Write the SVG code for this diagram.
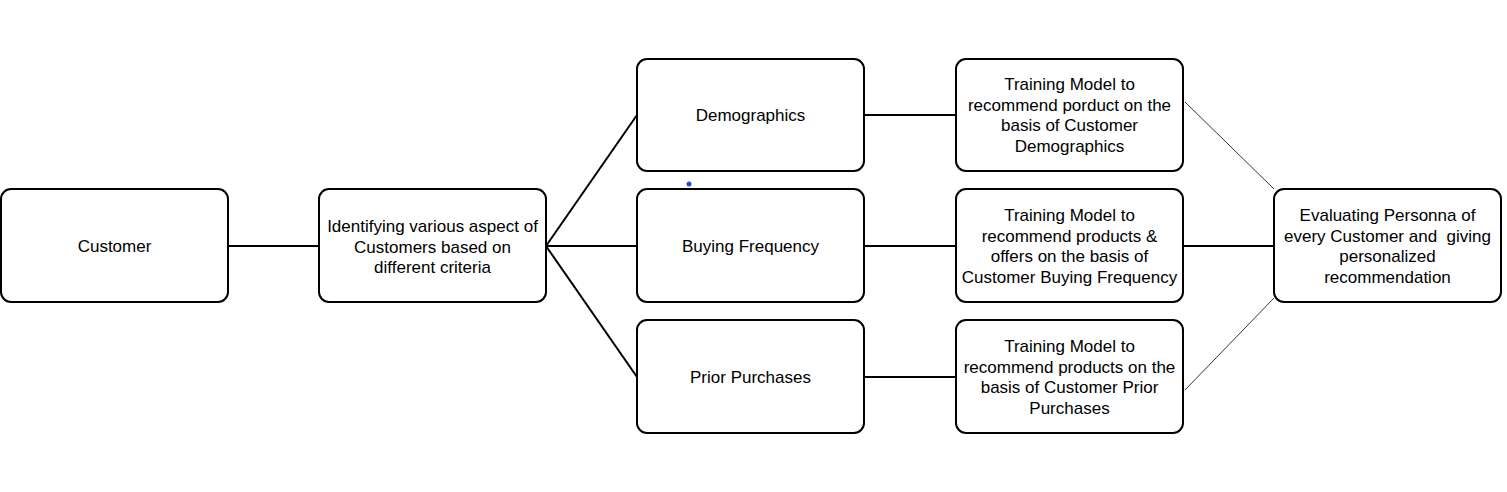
<svg xmlns="http://www.w3.org/2000/svg" width="1507" height="492" viewBox="0 0 1507 492">
<style>
.box{fill:#fff;stroke:#000;stroke-width:2}
.t{font-family:"Liberation Sans",Arial,sans-serif;font-size:17px;fill:#000;text-anchor:middle;white-space:pre}
.c{stroke:#000;stroke-width:2;fill:none}
.thin{stroke:#000;stroke-width:0.8;fill:none}
</style>
<rect width="1507" height="492" fill="#fff"/>
<g id="connectors">
<line class="c" x1="228" y1="246" x2="319" y2="246"/>
<line class="c" x1="546" y1="246" x2="637" y2="115"/>
<line class="c" x1="546" y1="246" x2="637" y2="246"/>
<line class="c" x1="546" y1="246" x2="637" y2="377"/>
<line class="c" x1="864" y1="115" x2="956" y2="115"/>
<line class="c" x1="864" y1="246" x2="956" y2="246"/>
<line class="c" x1="864" y1="377" x2="956" y2="377"/>
<line class="thin" x1="1185" y1="102" x2="1274" y2="189"/>
<line class="c" x1="1183" y1="246" x2="1274" y2="246"/>
<line class="thin" x1="1185" y1="390" x2="1274" y2="298"/>
</g>
<g id="customer">
<rect class="box" x="1" y="189" width="227" height="113" rx="10"/>
<text class="t" x="114.5" y="252">Customer</text>
</g>
<g id="identify">
<rect class="box" x="319" y="189" width="227" height="113" rx="10"/>
<text class="t" x="432.5" y="232">Identifying various aspect of</text>
<text class="t" x="432.5" y="252.5">Customers based on</text>
<text class="t" x="432.5" y="273">different criteria</text>
</g>
<g id="demographics">
<rect class="box" x="637" y="59" width="227" height="112" rx="10"/>
<text class="t" x="750.5" y="121">Demographics</text>
</g>
<g id="buying">
<rect class="box" x="637" y="189" width="227" height="113" rx="10"/>
<text class="t" x="750.5" y="252">Buying Frequency</text>
</g>
<g id="prior">
<rect class="box" x="637" y="320" width="227" height="113" rx="10"/>
<text class="t" x="750.5" y="383">Prior Purchases</text>
</g>
<g id="train1">
<rect class="box" x="956" y="59" width="227" height="112" rx="10"/>
<text class="t" x="1069.5" y="90">Training Model to</text>
<text class="t" x="1069.5" y="110.5">recommend porduct on the</text>
<text class="t" x="1069.5" y="131">basis of Customer</text>
<text class="t" x="1069.5" y="151.5">Demographics</text>
</g>
<g id="train2">
<rect class="box" x="956" y="189" width="227" height="113" rx="10"/>
<text class="t" x="1069.5" y="221">Training Model to</text>
<text class="t" x="1069.5" y="241.5">recommend products &amp;</text>
<text class="t" x="1069.5" y="262">offers on the basis of</text>
<text class="t" x="1069.5" y="282.5">Customer Buying Frequency</text>
</g>
<g id="train3">
<rect class="box" x="956" y="320" width="227" height="113" rx="10"/>
<text class="t" x="1069.5" y="352">Training Model to</text>
<text class="t" x="1069.5" y="372.5">recommend products on the</text>
<text class="t" x="1069.5" y="393">basis of Customer Prior</text>
<text class="t" x="1069.5" y="413.5">Purchases</text>
</g>
<g id="evaluate">
<rect class="box" x="1274" y="189" width="227" height="113" rx="10"/>
<text class="t" x="1387.5" y="221">Evaluating Personna of</text>
<text class="t" x="1387.5" y="241.5">every Customer and  giving</text>
<text class="t" x="1387.5" y="262">personalized</text>
<text class="t" x="1387.5" y="282.5">recommendation</text>
</g>
<circle id="dot" cx="689" cy="184" r="2.5" fill="#3344dd"/>
</svg>
